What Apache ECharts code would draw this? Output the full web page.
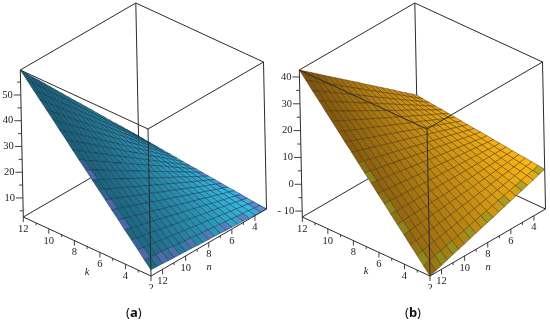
<!DOCTYPE html>
<html><head><meta charset="utf-8">
<style>html,body{margin:0;padding:0;background:#fff}#c{width:550px;height:324px}</style>
<script src="https://cdn.jsdelivr.net/npm/echarts@6/dist/echarts.min.js"></script>
</head><body><div id="c"></div>
<script>
const kValues=[2,2.5,3,3.5,4,4.5,5,5.5,6,6.5,7,7.5,8,8.5,9,9.5,10,10.5,11,11.5,12];
const nValues=[3,3.5,4,4.5,5,5.5,6,6.5,7,7.5,8,8.5,9,9.5,10,10.5,11,11.5,12,12.5,13];
const kTicks=[12,10,8,6,4,2];
const nTicks=[12,10,8,6,4];
const zTicksA=[50,40,30,20,10];
const zTicksB=[40,30,20,10,0,-10];
const surfaceA=[
[2.6,2.7,2.8,3.0,3.1,3.2,3.3,3.4,3.6,3.7,3.8,3.9,4.0,4.2,4.3,4.4,4.5,4.6,4.8,4.9,5.0],
[2.9,3.1,3.4,3.6,3.8,4.1,4.3,4.6,4.8,5.1,5.3,5.5,5.8,6.0,6.3,6.5,6.8,7.0,7.2,7.5,7.7],
[3.1,3.5,3.9,4.2,4.6,5.0,5.3,5.7,6.1,6.4,6.8,7.2,7.5,7.9,8.3,8.6,9.0,9.4,9.7,10.1,10.5],
[3.4,3.9,4.4,4.9,5.4,5.9,6.4,6.8,7.3,7.8,8.3,8.8,9.3,9.8,10.3,10.8,11.3,11.7,12.2,12.7,13.2],
[3.7,4.3,4.9,5.5,6.1,6.7,7.4,8.0,8.6,9.2,9.8,10.4,11.0,11.7,12.3,12.9,13.5,14.1,14.7,15.3,15.9],
[4.0,4.7,5.4,6.2,6.9,7.6,8.4,9.1,9.8,10.6,11.3,12.1,12.8,13.5,14.3,15.0,15.7,16.5,17.2,17.9,18.7],
[4.2,5.1,5.9,6.8,7.7,8.5,9.4,10.2,11.1,12.0,12.8,13.7,14.5,15.4,16.3,17.1,18.0,18.8,19.7,20.6,21.4],
[4.5,5.5,6.5,7.4,8.4,9.4,10.4,11.4,12.4,13.3,14.3,15.3,16.3,17.3,18.3,19.2,20.2,21.2,22.2,23.2,24.2],
[4.8,5.9,7.0,8.1,9.2,10.3,11.4,12.5,13.6,14.7,15.8,16.9,18.0,19.1,20.2,21.4,22.5,23.6,24.7,25.8,26.9],
[5.0,6.3,7.5,8.7,10.0,11.2,12.4,13.6,14.9,16.1,17.3,18.6,19.8,21.0,22.2,23.5,24.7,25.9,27.2,28.4,29.6],
[5.3,6.7,8.0,9.4,10.7,12.1,13.4,14.8,16.1,17.5,18.8,20.2,21.5,22.9,24.2,25.6,26.9,28.3,29.7,31.0,32.4],
[5.6,7.0,8.5,10.0,11.5,13.0,14.4,15.9,17.4,18.9,20.3,21.8,23.3,24.8,26.2,27.7,29.2,30.7,32.1,33.6,35.1],
[5.8,7.4,9.0,10.6,12.2,13.8,15.4,17.0,18.6,20.2,21.8,23.4,25.0,26.6,28.2,29.8,31.4,33.0,34.6,36.2,37.8],
[6.1,7.8,9.6,11.3,13.0,14.7,16.4,18.2,19.9,21.6,23.3,25.1,26.8,28.5,30.2,31.9,33.7,35.4,37.1,38.8,40.6],
[6.4,8.2,10.1,11.9,13.8,15.6,17.5,19.3,21.1,23.0,24.8,26.7,28.5,30.4,32.2,34.1,35.9,37.8,39.6,41.5,43.3],
[6.7,8.6,10.6,12.6,14.5,16.5,18.5,20.4,22.4,24.4,26.4,28.3,30.3,32.3,34.2,36.2,38.2,40.1,42.1,44.1,46.1],
[6.9,9.0,11.1,13.2,15.3,17.4,19.5,21.6,23.7,25.8,27.9,29.9,32.0,34.1,36.2,38.3,40.4,42.5,44.6,46.7,48.8],
[7.2,9.4,11.6,13.8,16.1,18.3,20.5,22.7,24.9,27.1,29.4,31.6,33.8,36.0,38.2,40.4,42.6,44.9,47.1,49.3,51.5],
[7.5,9.8,12.1,14.5,16.8,19.2,21.5,23.8,26.2,28.5,30.9,33.2,35.5,37.9,40.2,42.5,44.9,47.2,49.6,51.9,54.2],
[7.7,10.2,12.7,15.1,17.6,20.0,22.5,25.0,27.4,29.9,32.4,34.8,37.3,39.8,42.2,44.7,47.1,49.6,52.1,54.5,57.0],
[8.0,10.6,13.2,15.8,18.3,20.9,23.5,26.1,28.7,31.3,33.9,36.4,39.0,41.6,44.2,46.8,49.4,52.0,54.5,57.1,59.7]
];
const surfaceB=[
[2.6,1.9,1.1,0.4,-0.4,-1.1,-1.8,-2.6,-3.3,-4.1,-4.8,-5.5,-6.3,-7.0,-7.8,-8.5,-9.2,-10.0,-10.7,-11.5,-12.2],
[2.9,2.3,1.7,1.0,0.4,-0.2,-0.8,-1.4,-2.1,-2.7,-3.3,-3.9,-4.5,-5.1,-5.8,-6.4,-7.0,-7.6,-8.2,-8.8,-9.5],
[3.2,2.7,2.2,1.7,1.2,0.7,0.2,-0.3,-0.8,-1.3,-1.8,-2.3,-2.8,-3.3,-3.8,-4.3,-4.8,-5.3,-5.7,-6.2,-6.7],
[3.5,3.1,2.7,2.3,2.0,1.6,1.2,0.8,0.5,0.1,-0.3,-0.6,-1.0,-1.4,-1.8,-2.1,-2.5,-2.9,-3.2,-3.6,-4.0],
[3.7,3.5,3.2,3.0,2.7,2.5,2.2,2.0,1.8,1.5,1.3,1.0,0.8,0.5,0.3,0.0,-0.2,-0.5,-0.7,-1.0,-1.2],
[4.0,3.9,3.8,3.6,3.5,3.4,3.3,3.1,3.0,2.9,2.8,2.6,2.5,2.4,2.3,2.1,2.0,1.9,1.8,1.6,1.5],
[4.3,4.3,4.3,4.3,4.3,4.3,4.3,4.3,4.3,4.3,4.3,4.3,4.3,4.3,4.3,4.3,4.2,4.2,4.2,4.2,4.2],
[4.6,4.7,4.8,5.0,5.1,5.2,5.3,5.4,5.5,5.7,5.8,5.9,6.0,6.1,6.3,6.4,6.5,6.6,6.7,6.9,7.0],
[4.9,5.1,5.4,5.6,5.9,6.1,6.3,6.6,6.8,7.1,7.3,7.5,7.8,8.0,8.3,8.5,8.8,9.0,9.2,9.5,9.7],
[5.2,5.5,5.9,6.3,6.6,7.0,7.4,7.7,8.1,8.5,8.8,9.2,9.5,9.9,10.3,10.6,11.0,11.4,11.7,12.1,12.5],
[5.5,5.9,6.4,6.9,7.4,7.9,8.4,8.9,9.4,9.8,10.3,10.8,11.3,11.8,12.3,12.8,13.3,13.7,14.2,14.7,15.2],
[5.7,6.3,7.0,7.6,8.2,8.8,9.4,10.0,10.6,11.2,11.8,12.4,13.1,13.7,14.3,14.9,15.5,16.1,16.7,17.3,17.9],
[6.0,6.8,7.5,8.2,8.9,9.7,10.4,11.2,11.9,12.6,13.4,14.1,14.8,15.5,16.3,17.0,17.8,18.5,19.2,19.9,20.7],
[6.3,7.2,8.0,8.9,9.7,10.6,11.4,12.3,13.1,14.0,14.9,15.7,16.6,17.4,18.3,19.1,20.0,20.9,21.7,22.6,23.4],
[6.6,7.6,8.5,9.5,10.5,11.5,12.5,13.4,14.4,15.4,16.4,17.4,18.3,19.3,20.3,21.3,22.2,23.2,24.2,25.2,26.2],
[6.9,8.0,9.1,10.2,11.3,12.4,13.5,14.6,15.7,16.8,17.9,19.0,20.1,21.2,22.3,23.4,24.5,25.6,26.7,27.8,28.9],
[7.2,8.4,9.6,10.8,12.1,13.3,14.5,15.7,16.9,18.2,19.4,20.6,21.8,23.1,24.3,25.5,26.7,28.0,29.2,30.4,31.6],
[7.4,8.8,10.1,11.5,12.8,14.2,15.5,16.9,18.2,19.6,20.9,22.3,23.6,24.9,26.3,27.6,29.0,30.3,31.7,33.0,34.4],
[7.7,9.2,10.7,12.1,13.6,15.1,16.5,18.0,19.5,20.9,22.4,23.9,25.4,26.8,28.3,29.8,31.2,32.7,34.2,35.7,37.1],
[8.0,9.6,11.2,12.8,14.4,16.0,17.6,19.2,20.8,22.3,23.9,25.5,27.1,28.7,30.3,31.9,33.5,35.1,36.7,38.3,39.9],
[8.3,10.0,11.7,13.4,15.2,16.9,18.6,20.3,22.0,23.7,25.5,27.2,28.9,30.6,32.3,34.0,35.7,37.5,39.2,40.9,42.6]
];
const zRangeA=[2.6,59.7];
const zRangeB=[-12.2,42.6];
const kRange=[2,12];
const nRange=[3,13];

// Oblique view of the box (scene axes, set to the hidden 550x324 cartesian)
const view={ek:[-127.7,-59],en:[115.5,-67],ez:[-3,-147]};
const panels=[
 {name:'a',o:[151,276],zr:zRangeA,zt:zTicksA,surf:surfaceA,dark:[27,92,118],bright:[58,196,238],gamma:1.45,mesh:'rgba(6,34,52,0.62)',patch:[112,104,196],cap:'a',k:[87,272],n:[209,267],nEdgeCells:[1,4,6,9],kEdgeCells:[0,3,6,9,12,15,17],backCells:[1,3,6,9,11]},
 {name:'b',o:[430,276],zr:zRangeB,zt:zTicksB,surf:surfaceB,dark:[122,84,14],bright:[255,186,22],gamma:1.05,mesh:'rgba(60,30,0,0.62)',patch:[136,156,34],cap:'b',k:[366,271],n:[488,267],nEdgeCells:[1,4,6,9],kEdgeCells:[0,3,6,9,12,15,17],backCells:[]}
];
function proj(p,k,n,z){
 const a=(k-kRange[0])/(kRange[1]-kRange[0]);
 const b=(nRange[1]-n)/(nRange[1]-nRange[0]);
 const c=(z-p.zr[0])/(p.zr[1]-p.zr[0]);
 return [p.o[0]+a*view.ek[0]+b*view.en[0]+c*view.ez[0], p.o[1]+a*view.ek[1]+b*view.en[1]+c*view.ez[1]];
}
const txtFont='Liberation Serif';
const boxLine={stroke:'#2b2b2b',lineWidth:1};
function seg(api,a,b,style){
 const p1=api.coord(a),p2=api.coord(b);
 return {type:'line',shape:{x1:p1[0],y1:p1[1],x2:p2[0],y2:p2[1]},style:style||boxLine};
}
function label(api,pos,text,extra){
 const q=api.coord(pos);
 return {type:'text',x:q[0],y:q[1],z2:5,style:Object.assign({text:String(text),fill:'#222',fontFamily:txtFont,fontSize:10.5,textAlign:'center',textVerticalAlign:'middle'},extra||{})};
}
function corners(p){
 const [k0,k1]=kRange,[n0,n1]=nRange,[z0,z1]=p.zr;
 return {L0:proj(p,k1,n1,z0),L1:proj(p,k1,n1,z1),F0:proj(p,k0,n1,z0),F1:proj(p,k0,n1,z1),
  R0:proj(p,k0,n0,z0),R1:proj(p,k0,n0,z1),B0:proj(p,k1,n0,z0),B1:proj(p,k1,n0,z1)};
}
function backBox(p){return function(params,api){
 const c=corners(p);
 return {type:'group',children:[seg(api,c.L1,c.B1),seg(api,c.B1,c.R1),seg(api,c.B1,c.B0),seg(api,c.L0,c.B0),seg(api,c.R0,c.B0)]};
};}
function surface(p){return function(params,api){
 const i=api.value(0),j=api.value(1);
 const pts=[[i,j],[i+1,j],[i+1,j+1],[i,j+1]].map(q=>api.coord(proj(p,kValues[q[0]],nValues[q[1]],p.surf[q[0]][q[1]])));
 const tn=1-(j+0.5)/20, tk=1-(i+0.5)/20;
 let t=Math.pow(Math.min(1,Math.max(0,0.78*tn+0.22*tk)),p.gamma);
 let col=p.dark.map((d,m)=>Math.round(d+(p.bright[m]-d)*t));
 const strong=(j===19&&p.nEdgeCells.includes(i))||(i===0&&p.kEdgeCells.includes(j))||(j===0&&p.backCells.includes(i));
 const weak=(j===19&&p.nEdgeCells.includes(i-1))||(i===0&&p.kEdgeCells.includes(j-1))||(j===0&&p.backCells.includes(i-1));
 if(strong||weak){const w=strong?0.6:0.25;col=col.map((c,m)=>Math.round(c+(p.patch[m]-c)*w));}
 return {type:'polygon',shape:{points:pts},style:{fill:'rgb('+col.join(',')+')',stroke:p.mesh,lineWidth:0.65}};
};}
function frontBox(p){return function(params,api){
 const c=corners(p);
 const kids=[seg(api,c.L1,c.F1),seg(api,c.F1,c.R1),seg(api,c.F1,c.F0),seg(api,c.L1,c.L0),seg(api,c.R1,c.R0),seg(api,c.L0,c.F0),seg(api,c.F0,c.R0)];
 const thin={stroke:'#2b2b2b',lineWidth:0.9};
 for(let k=kRange[0];k<=kRange[1];k++){
  const a=proj(p,k,nRange[1],p.zr[0]);
  const maj=k%2===0;
  kids.push(seg(api,a,[a[0],a[1]+(maj?5:2.5)],thin));
 }
 kTicks.forEach(k=>{const a=proj(p,k,nRange[1],p.zr[0]);kids.push(label(api,[a[0],a[1]+12],k));});
 for(let n=nRange[0]+1;n<nRange[1];n++){
  const a=proj(p,kRange[0],n,p.zr[0]);
  const maj=n%2===0;
  kids.push(seg(api,a,[a[0],a[1]+(maj?5:2.5)],thin));
 }
 nTicks.forEach(n=>{const a=proj(p,kRange[0],n,p.zr[0]);kids.push(label(api,[a[0],a[1]+12],n));});
 const zmin=Math.ceil(p.zr[0]/5)*5;
 for(let z=zmin;z<=p.zr[1];z+=5){
  const a=proj(p,kRange[1],nRange[1],z);
  const maj=z%10===0;
  kids.push(seg(api,a,[a[0]-(maj?7:3.5),a[1]],thin));
 }
 p.zt.forEach(z=>{const a=proj(p,kRange[1],nRange[1],z);
  kids.push(label(api,[a[0]-8,a[1]],z<0?'- '+(-z):z,{textAlign:'right'}));});
 kids.push(label(api,p.k,'k',{fontStyle:'italic'}));
 kids.push(label(api,p.n,'n',{fontStyle:'italic'}));
 // the "2" at the front corner is cut off in the source figure
 const cut=api.coord([c.F0[0]-7,289]);
 kids.push({type:'rect',z2:9,shape:{x:cut[0],y:cut[1],width:14,height:8},style:{fill:'#fff'}});
 const cp=api.coord([c.F0[0]-25,313]);
 kids.push({type:'text',x:cp[0],y:cp[1],z2:5,style:{text:'{r|(}{b|'+p.cap+'}{r|)}',textAlign:'left',textVerticalAlign:'middle',
   rich:{r:{fontFamily:'Noto Sans',fontSize:13,fill:'#111'},b:{fontFamily:'Noto Sans',fontWeight:'bold',fontSize:13,fill:'#111'}}}});
 return {type:'group',children:kids};
};}
const cellIndex=[];
for(let i=kValues.length-2;i>=0;i--) for(let j=0;j<nValues.length-1;j++) cellIndex.push([i,j]);
const series=[];
panels.forEach(p=>{
 series.push({type:'custom',coordinateSystem:'cartesian2d',clip:false,silent:true,z:1,data:[[0,0]],renderItem:backBox(p)});
 series.push({type:'custom',coordinateSystem:'cartesian2d',clip:false,silent:true,z:2,data:cellIndex,encode:{x:0,y:1},renderItem:surface(p)});
 series.push({type:'custom',coordinateSystem:'cartesian2d',clip:false,silent:true,z:3,data:[[0,0]],renderItem:frontBox(p)});
});
const chart=echarts.init(document.getElementById('c'),null,{renderer:'canvas'});
chart.setOption({animation:false,backgroundColor:'#fff',
 grid:{left:0,right:0,top:0,bottom:0},
 xAxis:{type:'value',min:0,max:550,show:false},
 yAxis:{type:'value',min:0,max:324,inverse:true,show:false},
 series});
</script></body></html>
